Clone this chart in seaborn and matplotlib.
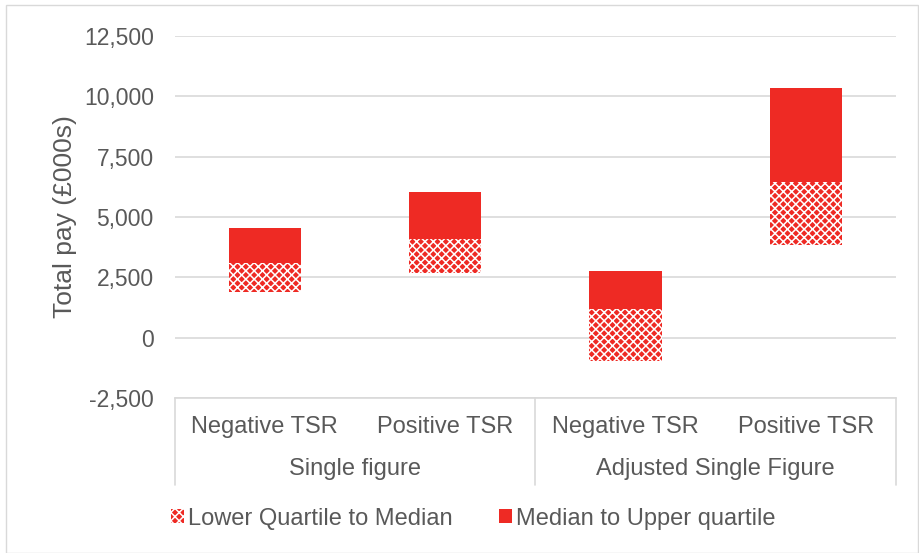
import numpy as np
import matplotlib
matplotlib.use("Agg")
import matplotlib.pyplot as plt
import matplotlib.patches as mpatches
from matplotlib.ticker import FuncFormatter
import seaborn as sns

# Data (values in £000s)
groups = ["Single figure", "Adjusted Single Figure"]
sub_labels = ["Negative TSR", "Positive TSR", "Negative TSR", "Positive TSR"]
keys = ["sf_neg", "sf_pos", "adj_neg", "adj_pos"]
lower_quartile = [1900, 2700, -950, 3850]
median = [3100, 4100, 1200, 6450]
upper_quartile = [4550, 6050, 2780, 10350]
yticks = [-2500, 0, 2500, 5000, 7500, 10000, 12500]

RED = "#EE2A24"
GREY = "#595959"
GRID = "#d9d9d9"

sns.set_style("white")
plt.rcParams["font.family"] = ["Liberation Sans", "DejaVu Sans"]
plt.rcParams["hatch.linewidth"] = 1.1

low_h = np.array(median) - np.array(lower_quartile)
up_h = np.array(upper_quartile) - np.array(median)

fig = plt.figure(figsize=(9.19, 5.53), dpi=100)
ax = fig.add_axes([0.190, 0.280, 0.785, 0.655])

# Lower quartile to median (patterned)
sns.barplot(x=keys, y=low_h, bottom=lower_quartile, order=keys, ax=ax,
            color=RED, width=0.4, saturation=1, hatch="xxxx",
            edgecolor="white", linewidth=0, zorder=3)
# Median to upper quartile (solid)
sns.barplot(x=keys, y=up_h, bottom=median, order=keys, ax=ax,
            color=RED, width=0.4, saturation=1, linewidth=0, zorder=3)

ax.set_xlim(-0.5, 3.5)
ax.set_ylim(-2500, 12500)
ax.set_yticks(yticks)
ax.yaxis.set_major_formatter(FuncFormatter(lambda v, p: f"{v:,.0f}"))
ax.yaxis.grid(True, color=GRID, linewidth=1.2, zorder=0)
ax.tick_params(axis="y", labelsize=16.5, labelcolor=GREY, length=0, pad=15)
ax.set_xticks([])
ax.set_ylabel("Total pay (£000s)", fontsize=19, color=GREY, labelpad=5)
ax.set_xlabel("")

for side in ["top", "right", "left"]:
    ax.spines[side].set_visible(False)
ax.spines["bottom"].set_color(GRID)
ax.spines["bottom"].set_linewidth(1.2)

# Multi-level category axis
trans = ax.get_xaxis_transform()
for i, lab in enumerate(sub_labels):
    ax.text(i, -0.08, lab, transform=trans, ha="center", va="center",
            fontsize=17, color=GREY)
for j, g in enumerate(groups):
    ax.text(2 * j + 0.5, -0.196, g, transform=trans, ha="center",
            va="center", fontsize=17, color=GREY)
for xv in [-0.5, 1.5, 3.5]:
    ax.plot([xv, xv], [0, -0.24], transform=trans, color=GRID,
            linewidth=1.2, clip_on=False)

# Legend
h1 = mpatches.Patch(facecolor=RED, hatch="xxxx", edgecolor="white",
                    linewidth=0, label="Lower Quartile to Median")
h2 = mpatches.Patch(facecolor=RED, linewidth=0, label="Median to Upper quartile")
leg = fig.legend(handles=[h1, h2], loc="center", bbox_to_anchor=(0.515, 0.062),
                 ncol=2, frameon=False, fontsize=17, handlelength=0.55,
                 handleheight=0.55, handletextpad=0.15, columnspacing=2.0)
for t in leg.get_texts():
    t.set_color(GREY)

# Outer chart border
fig.patches.append(mpatches.Rectangle((0.006, 0.0), 0.993, 0.991,
                                      transform=fig.transFigure, fill=False,
                                      edgecolor=GRID, linewidth=1))

fig.savefig("out.png", dpi=100)
